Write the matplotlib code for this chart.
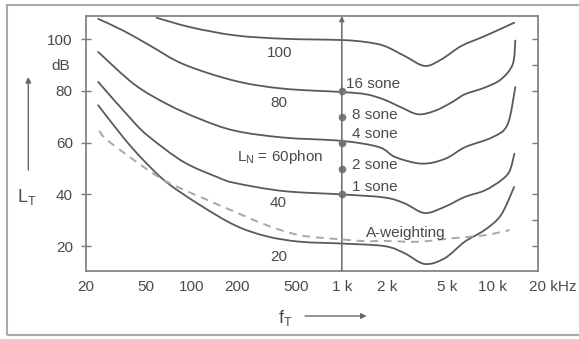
import matplotlib
matplotlib.use("Agg")
import numpy as np
import matplotlib.pyplot as plt
from matplotlib.ticker import FixedLocator, NullFormatter
from matplotlib.transforms import ScaledTranslation
from matplotlib.patches import Rectangle, PathPatch
from matplotlib.path import Path

plt.rcParams['font.family'] = ['Liberation Sans', 'DejaVu Sans']
plt.rcParams['mathtext.fontset'] = 'custom'
plt.rcParams['mathtext.rm'] = 'Liberation Sans'
plt.rcParams['mathtext.it'] = 'Liberation Sans'

# equal loudness contours (Hz, dB)
f_100 = [59, 100, 196, 409, 1000, 1454, 1923, 2620, 3550, 4580, 6220, 8870, 13960]
l_100 = [108.3, 104.6, 101.5, 100.2, 99.7, 98.9, 97.4, 93.5, 89.7, 92.2, 97.4, 101.2, 106.4]

f_80 = [24.1, 35.8, 53.8, 89.3, 196, 409, 1000, 1454, 1923, 2490, 3210, 4140, 5330, 6550, 8870, 11400, 13640, 14200]
l_80 = [107.9, 103.2, 97.4, 90.3, 83.9, 80.9, 79.6, 78.7, 76.6, 73.6, 71.0, 72.3, 75.5, 78.7, 81.3, 84.5, 90.3, 99.5]

f_60 = [24.1, 41.8, 69.3, 115, 196, 409, 1000, 1763, 2273, 3410, 4870, 6600, 10000, 12600, 14200]
l_60 = [95.1, 82.6, 74.9, 69.1, 64.6, 62.0, 60.7, 58.3, 54.4, 51.9, 53.8, 58.3, 62.1, 67.0, 81.5]

f_40 = [24.1, 41.8, 53.8, 89.3, 149, 196, 409, 1000, 1923, 2620, 3550, 4820, 6550, 8870, 11400, 13000, 14000]
l_40 = [83.5, 67.8, 61.8, 52.5, 46.7, 44.4, 41.3, 40.0, 38.8, 36.5, 32.8, 35.2, 39.0, 41.5, 45.4, 49.0, 55.7]

f_20 = [24.1, 36, 48.6, 69.3, 115, 196, 317, 528, 1000, 1923, 2620, 3550, 4820, 6550, 8870, 11400, 13950]
l_20 = [74.5, 61.5, 53.0, 44.5, 35.8, 28.0, 23.8, 21.7, 21.0, 20.0, 17.2, 13.1, 15.3, 21.7, 26.2, 32.0, 42.9]

f_aw = [24.5, 27.8, 48.6, 69.3, 115, 196, 317, 528, 1000, 1454, 1923, 3210, 5330, 8870, 13000]
l_aw = [64.6, 60.9, 50.5, 44.8, 39.0, 33.2, 28.1, 24.2, 22.6, 21.9, 22.0, 21.7, 23.0, 24.2, 26.2]

# loudness points on the 1 kHz line
sone_levels = [80, 70, 60, 50, 40]
sone_labels = ['16 sone', '8 sone', '4 sone', '2 sone', '1 sone']

x_ticks = [20, 50, 100, 200, 500, 1000, 2000, 5000, 10000, 20000]
x_labels = ['20', '50', '100', '200', '500', '1 k', '2 k', '5 k', '10 k', '20 kHz']
y_ticks = [20, 40, 60, 80, 100]

line_c = '#5a5a5a'
text_c = '#4a4a4a'
grey = '#7a7a7a'


# smooth path through the read points (Catmull-Rom in log-f space, drawn as Bezier)
def smooth_path(f, l):
    u = np.log10(f)
    v = np.asarray(l, float)
    pts = np.column_stack([u, v])
    verts = [pts[0]]
    codes = [Path.MOVETO]
    n = len(pts)
    for i in range(n - 1):
        p0 = pts[max(i - 1, 0)]
        p1 = pts[i]
        p2 = pts[i + 1]
        p3 = pts[min(i + 2, n - 1)]
        c1 = p1 + (p2 - p0) / 6
        c2 = p2 - (p3 - p1) / 6
        verts += [c1, c2, p2]
        codes += [Path.CURVE4] * 3
    verts = np.array(verts)
    verts[:, 0] = 10 ** verts[:, 0]
    return Path(verts, codes)


fig = plt.figure(figsize=(5.79, 3.39), dpi=100)
ax = fig.add_axes([0.1485, 0.2015, 0.7802, 0.7513])
ax.set_xscale('log')
ax.set_xlim(20, 20000)
ax.set_ylim(10.5, 109)

for f, l in [(f_100, l_100), (f_80, l_80), (f_60, l_60), (f_40, l_40), (f_20, l_20)]:
    ax.add_patch(PathPatch(smooth_path(f, l), fill=False, edgecolor=line_c, lw=1.3,
                           capstyle='round'))
ax.add_patch(PathPatch(smooth_path(f_aw, l_aw), fill=False, edgecolor='#a8a8a8', lw=1.4,
                       linestyle=(0, (4, 3))))

# vertical 1 kHz line with arrow head
ax.annotate('', xy=(1000, 109), xytext=(1000, 10.5),
            arrowprops=dict(arrowstyle='-|>', color='#6a6a6a', lw=1.1, mutation_scale=7,
                            shrinkA=0, shrinkB=0))
ax.plot([1000] * len(sone_levels), sone_levels, 'o', color=grey, ms=4.5)

sone_x = [1063, 1164, 1164, 1164, 1175]
sone_y = [82.7, 70.8, 63.4, 51.2, 42.9]
for x, y, s in zip(sone_x, sone_y, sone_labels):
    ax.text(x, y, s, fontsize=11, color=text_c, ha='left', va='center')

ax.text(389, 94.8, '100', fontsize=11, color=text_c, ha='center', va='center')
ax.text(380, 75.2, '80', fontsize=11, color=text_c, ha='center', va='center')
ax.text(201, 54.4, r'$\mathrm{L_N}$ = 60phon', fontsize=11, color=text_c, ha='left', va='center')
ax.text(380, 36.5, '40', fontsize=11, color=text_c, ha='center', va='center')
ax.text(380, 15.9, '20', fontsize=11, color=text_c, ha='center', va='center')
ax.text(1454, 24.9, 'A-weighting', fontsize=11, color=text_c, ha='left', va='center')

for s in ax.spines.values():
    s.set_color(grey)
    s.set_linewidth(1.2)

ax.xaxis.set_major_locator(FixedLocator(x_ticks))
ax.set_xticklabels(x_labels)
ax.xaxis.set_minor_locator(FixedLocator([50, 100, 200, 2000, 5000, 10000]))
ax.xaxis.set_minor_formatter(NullFormatter())
ax.tick_params(axis='x', which='major', length=0, pad=7, labelsize=11, labelcolor=text_c)
ax.tick_params(axis='x', which='minor', direction='in', length=4, color=grey, width=1)
lab = ax.get_xticklabels()[-1]
lab.set_transform(lab.get_transform() + ScaledTranslation(0.15, 0, fig.dpi_scale_trans))

ax.set_yticks(y_ticks)
ax.yaxis.set_minor_locator(FixedLocator([]))
ax.tick_params(axis='y', which='major', direction='inout', length=7, width=1, color=grey,
               pad=6, labelsize=11, labelcolor=text_c)

# right hand ticks point inwards only
ax_r = ax.twinx()
ax_r.set_ylim(ax.get_ylim())
ax_r.set_yticks([20, 30, 40, 60, 80, 90, 100])
ax_r.tick_params(axis='y', direction='in', length=4, width=1, color=grey, labelright=False)
for s in ax_r.spines.values():
    s.set_visible(False)

ax.annotate('dB', xy=(0, 89.8), xycoords=('axes fraction', 'data'), xytext=(-11.5, 0),
            textcoords='offset points', ha='right', va='center', fontsize=11, color=text_c)

# axis names with arrows
fig.text(0.0461, 0.42, r'$\mathrm{L_T}$', fontsize=13, color=text_c, ha='center', va='center')
ax.annotate('', xy=(0.0489, 0.773), xycoords='figure fraction', xytext=(0.0489, 0.4985),
            textcoords='figure fraction',
            arrowprops=dict(arrowstyle='-|>', color='#666666', lw=1, mutation_scale=8,
                            shrinkA=0, shrinkB=0))
fig.text(0.4922, 0.062, r'$\mathrm{f_T}$', fontsize=13, color=text_c, ha='center', va='center')
ax.annotate('', xy=(0.6333, 0.0678), xycoords='figure fraction', xytext=(0.5268, 0.0678),
            textcoords='figure fraction',
            arrowprops=dict(arrowstyle='-|>', color='#666666', lw=1, mutation_scale=8,
                            shrinkA=0, shrinkB=0))

# outer frame
fig.add_artist(Rectangle((0.0121, 0.0118), 1.1, 0.973, transform=fig.transFigure,
                         fill=False, edgecolor='#aaaaaa', lw=1.5))

fig.savefig('out.png', dpi=100)
